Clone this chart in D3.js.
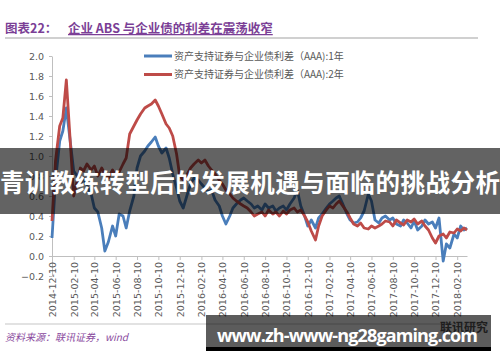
<!DOCTYPE html>
<html>
<head>
<meta charset="utf-8">
<script src="https://cdn.jsdelivr.net/npm/d3@7"></script>
<style>
  body { margin: 0; background: #fff; }
  svg { display: block; font-family: "Noto Sans CJK SC", "Noto Sans", sans-serif; }
</style>
</head>
<body>
<script>
// observation dates (roughly every 10 days)
var dates = [
  "2014-12-10","2014-12-20",
  "2015-01-01","2015-01-10","2015-01-20","2015-02-01","2015-02-10","2015-02-20",
  "2015-03-01","2015-03-10","2015-03-20","2015-04-01","2015-04-10","2015-04-20",
  "2015-05-01","2015-05-10","2015-05-20","2015-06-01","2015-06-10","2015-06-20",
  "2015-07-01","2015-07-10","2015-07-20","2015-08-01","2015-08-10","2015-08-20",
  "2015-09-01","2015-09-10","2015-09-20","2015-10-01","2015-10-10","2015-10-20",
  "2015-11-01","2015-11-10","2015-11-20","2015-12-01","2015-12-10","2015-12-20",
  "2016-01-01","2016-01-10","2016-01-20","2016-02-01","2016-02-10","2016-02-20",
  "2016-03-01","2016-03-10","2016-03-20","2016-04-01","2016-04-10","2016-04-20",
  "2016-05-01","2016-05-10","2016-05-20","2016-06-01","2016-06-10","2016-06-20",
  "2016-07-01","2016-07-10","2016-07-20","2016-08-01","2016-08-10","2016-08-20",
  "2016-09-01","2016-09-10","2016-09-20","2016-10-01","2016-10-10","2016-10-20",
  "2016-11-01","2016-11-10","2016-11-20","2016-12-01","2016-12-10","2016-12-20",
  "2017-01-01","2017-01-10","2017-01-20","2017-02-01","2017-02-10","2017-02-20",
  "2017-03-01","2017-03-10","2017-03-20","2017-04-01","2017-04-10","2017-04-20",
  "2017-05-01","2017-05-10","2017-05-20","2017-06-01","2017-06-10","2017-06-20",
  "2017-07-01","2017-07-10","2017-07-20","2017-08-01","2017-08-10","2017-08-20",
  "2017-09-01","2017-09-10","2017-09-20","2017-10-01","2017-10-10","2017-10-20",
  "2017-11-01","2017-11-10","2017-11-20","2017-12-01","2017-12-10","2017-12-20",
  "2018-01-01","2018-01-10","2018-01-20","2018-02-01","2018-02-10","2018-02-20",
  "2018-03-01","2018-03-10"
];

// 资产支持证券与企业债利差（AAA):1年
var spread1y = [
  0.18,0.75,
  1.15,1.25,1.48,1.12,0.85,0.80,
  0.72,0.78,0.70,0.62,0.48,0.44,
  0.28,0.05,0.14,0.30,0.20,0.42,
  0.40,0.28,0.45,0.60,0.88,1.00,
  1.05,1.10,1.14,1.19,1.10,1.03,
  1.08,0.98,0.82,0.68,0.55,0.48,
  0.62,0.72,0.78,0.76,0.72,0.68,
  0.64,0.66,0.56,0.50,0.40,0.32,
  0.40,0.48,0.52,0.56,0.58,0.55,
  0.52,0.48,0.50,0.46,0.52,0.48,
  0.50,0.45,0.48,0.50,0.46,0.52,
  0.58,0.66,0.50,0.40,0.30,0.36,
  0.28,0.38,0.42,0.48,0.52,0.55,
  0.58,0.60,0.52,0.42,0.36,0.33,
  0.34,0.38,0.45,0.62,0.55,0.36,
  0.33,0.38,0.40,0.36,0.38,0.32,
  0.30,0.36,0.33,0.28,0.35,0.26,
  0.30,0.36,0.32,0.34,0.28,0.38,
  -0.05,0.12,0.08,0.22,0.18,0.30,
  0.26,0.28
];

// 资产支持证券与企业债利差（AAA):2年
var spread2y = [
  0.35,0.95,
  1.30,1.38,1.76,1.10,0.60,0.75,
  0.88,0.85,0.92,0.86,0.90,0.80,
  0.88,0.82,0.78,0.86,0.80,0.84,
  0.92,0.98,1.22,1.30,1.36,1.42,
  1.48,1.50,1.52,1.56,1.50,1.42,
  1.32,1.28,1.20,1.02,0.80,0.76,
  0.82,0.88,0.92,0.96,0.93,0.96,
  0.90,0.86,0.82,0.76,0.72,0.66,
  0.62,0.58,0.55,0.52,0.50,0.48,
  0.44,0.40,0.42,0.44,0.40,0.46,
  0.42,0.44,0.40,0.45,0.42,0.46,
  0.48,0.44,0.46,0.40,0.34,0.25,
  0.16,0.30,0.40,0.46,0.50,0.48,
  0.52,0.55,0.50,0.44,0.38,0.32,
  0.30,0.33,0.28,0.27,0.30,0.28,
  0.30,0.32,0.35,0.34,0.30,0.36,
  0.33,0.31,0.36,0.34,0.37,0.32,
  0.35,0.30,0.26,0.18,0.13,0.20,
  0.22,0.18,0.24,0.23,0.27,0.25,
  0.28,0.26
];

var yTicks = [-0.2, 0.0, 0.2, 0.4, 0.6, 0.8, 1.0, 1.2, 1.4, 1.6, 1.8, 2.0];
var xTickLabels = [
  "2014-12-10","2015-02-10","2015-04-10","2015-06-10","2015-08-10","2015-10-10",
  "2015-12-10","2016-02-10","2016-04-10","2016-06-10","2016-08-10","2016-10-10",
  "2016-12-10","2017-02-10","2017-04-10","2017-06-10","2017-08-10","2017-10-10",
  "2017-12-10","2018-02-10"
];
var seriesNames = ["资产支持证券与企业债利差（AAA):1年", "资产支持证券与企业债利差（AAA):2年"];
var seriesColors = ["#4a7ebb", "#be4b48"];

var width = 500, height = 362;
var parse = d3.timeParse("%Y-%m-%d");

var svg = d3.select("body").append("svg")
  .attr("width", width)
  .attr("height", height);

// title
svg.append("text")
  .attr("x", 5).attr("y", 33)
  .attr("fill", "#7b3f96")
  .attr("font-size", 12.5)
  .attr("font-weight", "bold")
  .text("图表22：");
svg.append("text")
  .attr("x", 68).attr("y", 33)
  .attr("fill", "#7b3f96")
  .attr("font-size", 12.5)
  .attr("font-weight", "bold")
  .attr("text-decoration", "underline")
  .text("企业 ABS 与企业债的利差在震荡收窄");
svg.append("line")
  .attr("x1", 5).attr("x2", 478).attr("y1", 38).attr("y2", 38)
  .attr("stroke", "#d0d0d0").attr("stroke-width", 2);

var x = d3.scaleTime()
  .domain([parse("2014-12-10"), parse("2018-03-10")])
  .range([52, 467]);
var y = d3.scaleLinear()
  .domain([-0.2, 2.0])
  .range([276, 56]);

// y axis
var yAxis = d3.axisLeft(y)
  .tickValues(yTicks)
  .tickFormat(d3.format(".1f"))
  .tickSize(3)
  .tickSizeOuter(0);
var gy = svg.append("g").attr("transform", "translate(52,0)").call(yAxis);
gy.select(".domain").attr("stroke", "#bfbfbf");
gy.selectAll(".tick line").attr("stroke", "#bfbfbf");
gy.selectAll(".tick text")
  .attr("x", -8)
  .attr("fill", "#595959")
  .attr("font-size", 9.5)
  .attr("font-family", "'DejaVu Sans', sans-serif");

// x axis at value 0
var xAxis = d3.axisBottom(x)
  .tickValues(xTickLabels.map(parse))
  .tickFormat(d3.timeFormat("%Y-%m-%d"))
  .tickSize(4)
  .tickSizeOuter(0);
var gx = svg.append("g").attr("transform", "translate(0," + y(0) + ")").call(xAxis);
gx.select(".domain").attr("stroke", "#bfbfbf");
gx.selectAll(".tick line").attr("stroke", "#bfbfbf");
gx.selectAll(".tick text")
  .attr("transform", "rotate(-90)")
  .attr("text-anchor", "end")
  .attr("x", -6)
  .attr("y", 0)
  .attr("dy", "0.35em")
  .attr("fill", "#595959")
  .attr("font-size", 9.5)
  .attr("font-family", "'DejaVu Sans', sans-serif");

// lines
var line = d3.line()
  .x(function(d){ return x(d.date); })
  .y(function(d){ return y(d.value); });

[spread1y, spread2y].forEach(function(values, i) {
  var data = dates.map(function(s, j){ return { date: parse(s), value: values[j] }; });
  svg.append("path")
    .attr("d", line(data))
    .attr("fill", "none")
    .attr("stroke", seriesColors[i])
    .attr("stroke-width", 2.8)
    .attr("stroke-linejoin", "round");
});

// legend
seriesNames.forEach(function(name, i) {
  var ly = 56 + i * 18.5;
  svg.append("line")
    .attr("x1", 144).attr("x2", 172).attr("y1", ly).attr("y2", ly)
    .attr("stroke", seriesColors[i]).attr("stroke-width", 3);
  svg.append("text")
    .attr("x", 174).attr("y", ly + 3.5)
    .attr("fill", "#595959")
    .attr("font-size", 10)
    .text(name);
});

// footer
svg.append("line")
  .attr("x1", 5).attr("x2", 480).attr("y1", 324).attr("y2", 324)
  .attr("stroke", "#d9d9d9").attr("stroke-width", 1.5);
svg.append("text")
  .attr("x", 5).attr("y", 341)
  .attr("fill", "#8a4a9e")
  .attr("font-size", 10)
  .attr("font-style", "italic")
  .text("资料来源：联讯证券，wind");
svg.append("text")
  .attr("x", 440).attr("y", 332)
  .attr("fill", "#555")
  .attr("font-size", 12)
  .attr("font-weight", "bold")
  .text("联讯研究");

// overlay banner
svg.append("rect")
  .attr("x", 0).attr("y", 148).attr("width", width).attr("height", 66)
  .attr("fill", "#000").attr("fill-opacity", 0.61);
svg.append("text")
  .attr("x", 250).attr("y", 192)
  .attr("text-anchor", "middle")
  .attr("fill", "#fff")
  .attr("font-size", 24.5)
  .attr("font-weight", "bold")
  .attr("textLength", 500)
  .text("青训教练转型后的发展机遇与面临的挑战分析");

// watermark box
svg.append("rect")
  .attr("x", 206).attr("y", 315).attr("width", 285).attr("height", 33)
  .attr("fill", "#000").attr("fill-opacity", 0.64);
svg.append("rect")
  .attr("x", 206).attr("y", 347).attr("width", 285).attr("height", 4)
  .attr("fill", "#000");
svg.append("text")
  .attr("x", 217).attr("y", 342)
  .attr("fill", "#fff")
  .attr("font-size", 18)
  .attr("font-weight", "bold")
  .attr("font-family", "'Open Sans', 'DejaVu Sans', sans-serif")
  .attr("textLength", 261)
  .text("www.zh-www-ng28gaming.com");
</script>
</body>
</html>
